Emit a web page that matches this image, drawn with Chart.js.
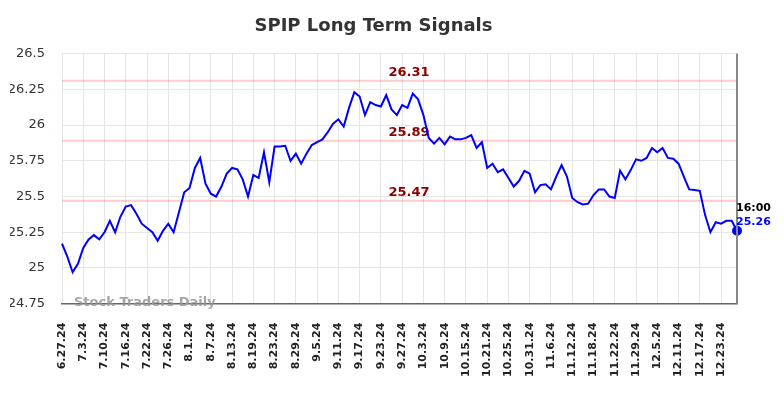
<!DOCTYPE html>
<html lang="en">
<head>
    <meta charset="UTF-8">
    <title>SPIP Long Term Signals</title>
    <script src="https://cdn.jsdelivr.net/npm/chart.js"></script>
    <style>
        body {
            margin: 0;
            padding: 0;
            background: #fff;
        }
        #wrap {
            width: 784px;
            height: 398px;
            position: relative;
        }
    </style>
</head>
<body>
    <div id="wrap"><canvas id="signalChart"></canvas></div>
    <script>
        // trading days shown on the x axis
        const dates = [
            '6.27.24', '6.28.24',
            '7.1.24', '7.2.24', '7.3.24', '7.5.24', '7.8.24', '7.9.24', '7.10.24', '7.11.24', '7.12.24',
            '7.15.24', '7.16.24', '7.17.24', '7.18.24', '7.19.24', '7.22.24', '7.23.24', '7.24.24', '7.25.24',
            '7.26.24', '7.29.24', '7.30.24', '7.31.24',
            '8.1.24', '8.2.24', '8.5.24', '8.6.24', '8.7.24', '8.8.24', '8.9.24', '8.12.24', '8.13.24', '8.14.24',
            '8.15.24', '8.16.24', '8.19.24', '8.20.24', '8.21.24', '8.22.24', '8.23.24', '8.26.24', '8.27.24',
            '8.28.24', '8.29.24', '8.30.24',
            '9.3.24', '9.4.24', '9.5.24', '9.6.24', '9.9.24', '9.10.24', '9.11.24', '9.12.24', '9.13.24',
            '9.16.24', '9.17.24', '9.18.24', '9.19.24', '9.20.24', '9.23.24', '9.24.24', '9.25.24', '9.26.24',
            '9.27.24', '9.30.24',
            '10.1.24', '10.2.24', '10.3.24', '10.4.24', '10.7.24', '10.8.24', '10.9.24', '10.10.24', '10.11.24',
            '10.14.24', '10.15.24', '10.16.24', '10.17.24', '10.18.24', '10.21.24', '10.22.24', '10.23.24',
            '10.24.24', '10.25.24', '10.28.24', '10.29.24', '10.30.24', '10.31.24',
            '11.1.24', '11.4.24', '11.5.24', '11.6.24', '11.7.24', '11.8.24', '11.11.24', '11.12.24', '11.13.24',
            '11.14.24', '11.15.24', '11.18.24', '11.19.24', '11.20.24', '11.21.24', '11.22.24', '11.25.24',
            '11.26.24', '11.27.24', '11.29.24',
            '12.2.24', '12.3.24', '12.4.24', '12.5.24', '12.6.24', '12.9.24', '12.10.24', '12.11.24', '12.12.24',
            '12.13.24', '12.16.24', '12.17.24', '12.18.24', '12.19.24', '12.20.24', '12.23.24', '12.24.24',
            '12.26.24', '12.27.24'
        ];

        // closing prices
        const prices = [
            25.17, 25.08, 24.97, 25.03, 25.14, 25.20, 25.23, 25.20, 25.25, 25.33,
            25.25, 25.36, 25.43, 25.44, 25.38, 25.31, 25.28, 25.25, 25.19, 25.26,
            25.31, 25.25, 25.39, 25.53, 25.56, 25.70, 25.77, 25.59, 25.52, 25.50,
            25.57, 25.66, 25.70, 25.69, 25.62, 25.50, 25.65, 25.63, 25.81, 25.60,
            25.85, 25.85, 25.855, 25.75, 25.80, 25.73, 25.80, 25.86, 25.88, 25.90,
            25.95, 26.01, 26.04, 25.99, 26.12, 26.23, 26.20, 26.07, 26.16, 26.14,
            26.13, 26.21, 26.11, 26.07, 26.14, 26.12, 26.22, 26.18, 26.07, 25.91,
            25.87, 25.91, 25.865, 25.92, 25.90, 25.90, 25.91, 25.93, 25.84, 25.88,
            25.70, 25.73, 25.67, 25.69, 25.63, 25.57, 25.61, 25.68, 25.66, 25.53,
            25.58, 25.585, 25.55, 25.64, 25.72, 25.64, 25.49, 25.46, 25.445, 25.45,
            25.51, 25.55, 25.55, 25.50, 25.49, 25.68, 25.62, 25.685, 25.76, 25.75,
            25.77, 25.84, 25.81, 25.84, 25.77, 25.765, 25.73, 25.64, 25.55, 25.545,
            25.54, 25.37, 25.25, 25.32, 25.31, 25.33, 25.33, 25.26
        ];

        // signal levels (horizontal lines)
        const signalLevels = [26.31, 25.89, 25.47];
        const lastTime = '16:00';

        const yMin = 24.75;
        const yMax = 26.5;
        const yStep = 0.25;
        const labelEvery = 4;

        Chart.defaults.font.family = "'DejaVu Sans', sans-serif";

        const signalPlugin = {
            id: 'signals',
            beforeDatasetsDraw(chart) {
                const { ctx, chartArea, scales } = chart;
                ctx.save();
                ctx.strokeStyle = 'rgba(255, 0, 0, 0.2)';
                ctx.lineWidth = 2;
                signalLevels.forEach(level => {
                    const y = scales.y.getPixelForValue(level);
                    ctx.beginPath();
                    ctx.moveTo(chartArea.left, y);
                    ctx.lineTo(chartArea.right, y);
                    ctx.stroke();
                });
                ctx.fillStyle = '#8b0000';
                ctx.font = "bold 13px 'DejaVu Sans'";
                ctx.textAlign = 'center';
                ctx.textBaseline = 'bottom';
                signalLevels.forEach(level => {
                    const y = scales.y.getPixelForValue(level);
                    ctx.fillText(level.toFixed(2), 409, y - 2);
                });
                ctx.restore();
            },
            afterDraw(chart) {
                const { ctx, chartArea, scales } = chart;
                ctx.save();
                // right border
                ctx.strokeStyle = '#888';
                ctx.lineWidth = 2;
                ctx.beginPath();
                ctx.moveTo(chartArea.right, chartArea.top);
                ctx.lineTo(chartArea.right, chartArea.bottom);
                ctx.stroke();

                // watermark
                ctx.fillStyle = 'rgba(150, 150, 150, 0.85)';
                ctx.font = "bold 13px 'DejaVu Sans'";
                ctx.textAlign = 'left';
                ctx.textBaseline = 'middle';
                ctx.fillText('Stock Traders Daily', 74, chartArea.bottom - 1);

                // last value label
                const last = prices.length - 1;
                const px = scales.x.getPixelForValue(last);
                const py = scales.y.getPixelForValue(prices[last]);
                ctx.font = "bold 11px 'DejaVu Sans'";
                ctx.fillStyle = '#000';
                ctx.fillText(lastTime, px - 1, py - 23);
                ctx.fillStyle = '#0000ff';
                ctx.fillText(prices[last].toFixed(2), px - 1, py - 9);
                ctx.restore();
            }
        };

        const ctx = document.getElementById('signalChart').getContext('2d');
        const signalChart = new Chart(ctx, {
            type: 'line',
            data: {
                labels: dates,
                datasets: [{
                    data: prices,
                    borderColor: '#0000ff',
                    backgroundColor: '#0000ff',
                    borderWidth: 2,
                    tension: 0,
                    pointRadius: c => c.dataIndex === prices.length - 1 ? 4 : 0,
                    pointHoverRadius: 0
                }]
            },
            options: {
                responsive: true,
                maintainAspectRatio: false,
                animation: false,
                layout: {
                    padding: { left: 10, right: 47, top: 4, bottom: 2 }
                },
                scales: {
                    x: {
                        offset: false,
                        grid: {
                            color: c => c.index % labelEvery === 0 ? '#e6e6e6' : 'rgba(0,0,0,0)',
                            drawTicks: false
                        },
                        border: { color: '#666', width: 1.5 },
                        ticks: {
                            autoSkip: false,
                            maxRotation: 90,
                            minRotation: 90,
                            padding: 19,
                            color: '#222',
                            font: { size: 11, weight: 'bold' },
                            callback: (v, i) => i % labelEvery === 0 ? dates[i] : ''
                        }
                    },
                    y: {
                        min: yMin,
                        max: yMax,
                        afterFit: scale => { scale.width = 52; },
                        grid: { color: '#e6e6e6', drawTicks: false },
                        border: { display: false },
                        ticks: {
                            stepSize: yStep,
                            padding: 17,
                            color: '#333',
                            font: { size: 13 },
                            callback: v => String(+v.toFixed(2))
                        }
                    }
                },
                plugins: {
                    legend: { display: false },
                    tooltip: { enabled: false },
                    title: {
                        display: true,
                        text: 'SPIP Long Term Signals',
                        color: '#333',
                        font: { size: 18, weight: 'bold' },
                        padding: { top: 12, bottom: 16 }
                    }
                }
            },
            plugins: [signalPlugin]
        });
    </script>
</body>
</html>
